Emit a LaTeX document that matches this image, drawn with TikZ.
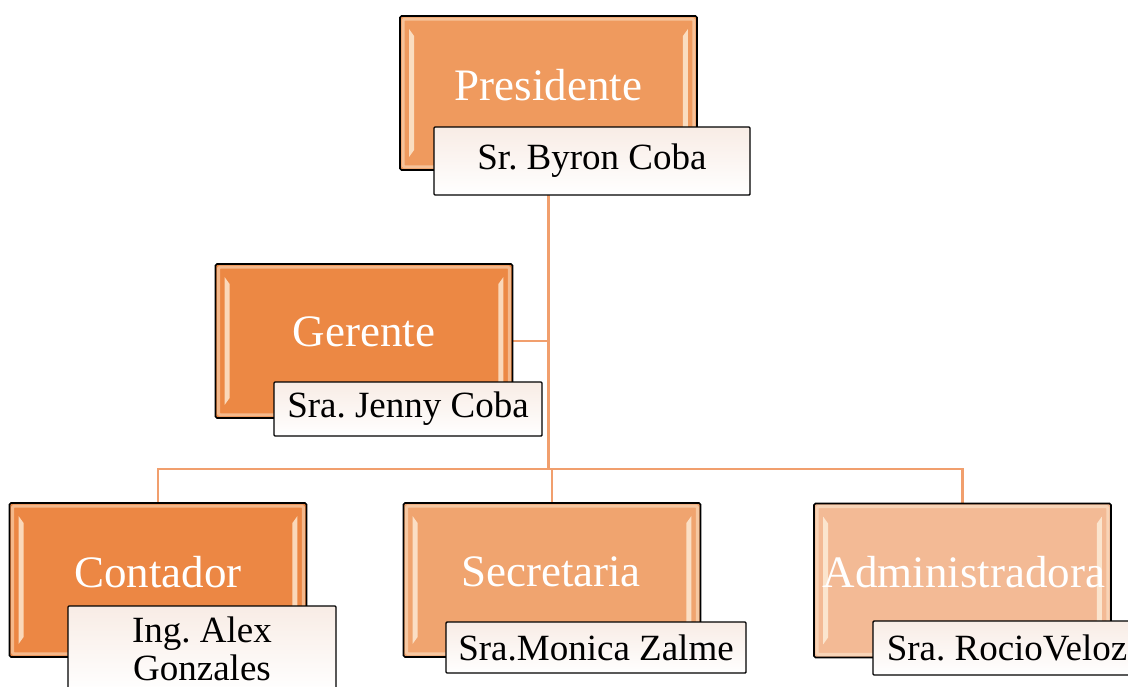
\documentclass[tikz,border=0pt]{standalone}
\usepackage{fontspec}
\setmainfont{Liberation Serif}
\frenchspacing
\pgfdeclarelayer{background}
\pgfsetlayers{background,main}

\definecolor{presfill}{HTML}{EF9A5E}
\definecolor{gerfill}{HTML}{EC8844}
\definecolor{contfill}{HTML}{EC8744}
\definecolor{secfill}{HTML}{F0A46F}
\definecolor{admfill}{HTML}{F3BA95}
\definecolor{linkc}{HTML}{F19F6D}
\definecolor{tagtop}{HTML}{F8ECE5}
\definecolor{glow}{HTML}{FFF4E2}

\tikzset{
  rolebox/.style={draw=black, line width=1.6pt, rounded corners=1.5pt,
    minimum width=297pt, minimum height=154pt, inner sep=0pt},
  roletext/.style={text=white, font=\fontsize{45}{50}\selectfont, inner sep=0pt},
  tagbox/.style={draw=black, line width=1.4pt, rounded corners=1pt,
    top color=tagtop, bottom color=white, inner sep=0pt,
    font=\fontsize{37}{38}\selectfont, align=center},
  link/.style={draw=linkc, line width=2.2pt},
}

% bevel highlights inside a role box
\newcommand\bevelbox[1]{%
  \draw[glow, opacity=0.45, line width=3pt, rounded corners=1pt]
    ([shift={(4,4)}]#1.north west) rectangle ([shift={(-4,-4)}]#1.south east);
  \fill[glow, opacity=0.75]
    ([shift={(10,14)}]#1.north west) -- ([shift={(15,21)}]#1.north west) --
    ([shift={(15,-21)}]#1.south west) -- ([shift={(10,-14)}]#1.south west) -- cycle;
  \fill[glow, opacity=0.75]
    ([shift={(-10,14)}]#1.north east) -- ([shift={(-15,21)}]#1.north east) --
    ([shift={(-15,-21)}]#1.south east) -- ([shift={(-10,-14)}]#1.south east) -- cycle;
}

\begin{document}
\begin{tikzpicture}[x=1pt,y=-1pt]
\useasboundingbox (0,0) rectangle (1128,686);
\clip (0,0) rectangle (1128,686);

% Presidente
\node[rolebox, fill=presfill] (pres) at (548.5,93) {};
\bevelbox{pres}
\node[roletext] (presT) at (548.5,85) {Presidente};
\node[tagbox, minimum width=316pt, minimum height=68pt] (presN) at (592,161) {Sr. Byron Coba};

% Gerente
\node[rolebox, fill=gerfill] (ger) at (364,341) {};
\bevelbox{ger}
\node[roletext] (gerT) at (364,332) {Gerente};
\node[tagbox, minimum width=268pt, minimum height=54pt] (gerN) at (408,409) {Sra. Jenny Coba};

% Contador
\node[rolebox, fill=contfill] (cont) at (158,580) {};
\bevelbox{cont}
\node[roletext] (contT) at (158,572) {Contador};
\node[tagbox, minimum width=268pt, minimum height=86pt] (contN) at (202,649) {Ing. Alex\\Gonzales};

% Secretaria
\node[rolebox, fill=secfill] (sec) at (552,580) {};
\bevelbox{sec}
\node[roletext] (secT) at (551,572) {Secretaria};
\node[tagbox, minimum width=300pt, minimum height=51pt] (secN) at (596,647.5) {Sra.Monica Zalme};

% Administradora
\node[rolebox, fill=admfill] (adm) at (962.5,580.5) {};
\bevelbox{adm}
\node[roletext] (admT) at (964,572) {Administradora};
\node[tagbox, minimum width=268pt, minimum height=54pt] (admN) at (1007,648) {Sra. RocioVeloz};

% white page and connectors, behind the boxes
\begin{pgfonlayer}{background}
\fill[white] (0,0) rectangle (1128,686);
\coordinate (bus) at (548.5,469);
\draw[link] (pres.south) -- (bus);
\draw[link] (ger.east) -- (ger.east -| bus);
\draw[link] (cont.north) -- (cont.north |- bus) -- (adm.north |- bus) -- (adm.north);
\draw[link] (sec.north) -- (sec.north |- bus);
\end{pgfonlayer}
\end{tikzpicture}
\end{document}
